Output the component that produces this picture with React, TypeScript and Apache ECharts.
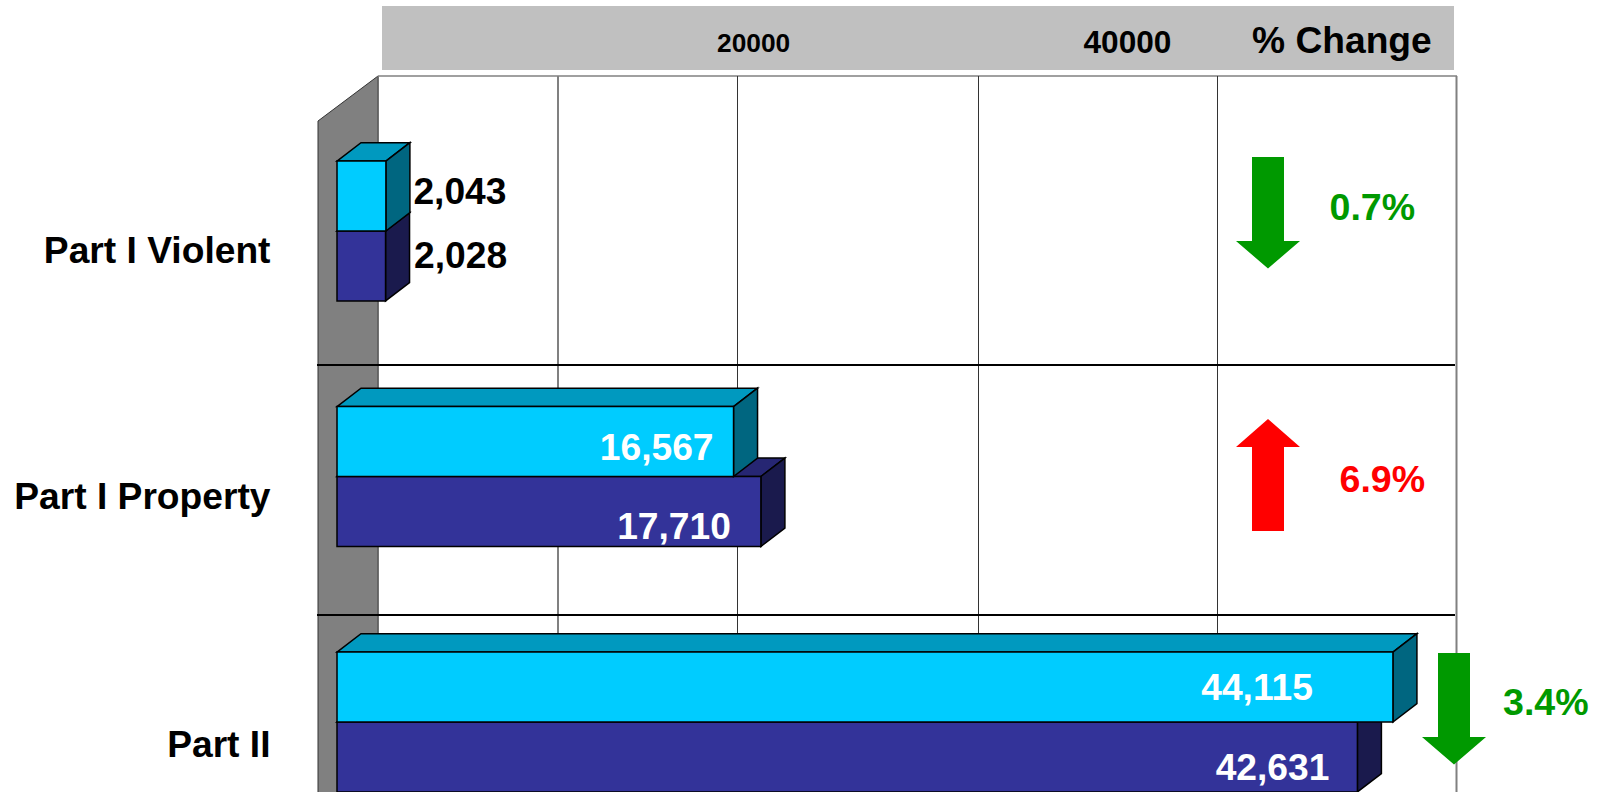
import React, { useEffect, useRef } from "react";
import * as echarts from "echarts";

const categories = ["Part I Violent", "Part I Property", "Part II"];
const earlierValues = [2043, 16567, 44115];
const laterValues = [2028, 17710, 42631];
const gridValues = [9232, 16708, 26775, 36759];
const tickLabels = ["20000", "40000"];
const headerTitle = "% Change";
const changeLabels = ["0.7%", "6.9%", "3.4%"];

const FONT = '"Liberation Sans", Arial, sans-serif';
const DX = 24;
const DY = -18.4;

// layout of the hand-placed value labels: dx from the bar end, dy from the bar's centre
const earlierLabelLayout = [
  { dx: 27.5, dy: -5, align: "left" },
  { dx: -20, dy: 5, align: "right" },
  { dx: -80, dy: -0.5, align: "right" },
];
const laterLabelLayout = [
  { dx: 28.5, dy: -11, align: "left" },
  { dx: -30, dy: 15, align: "right" },
  { dx: -28, dy: 10, align: "right" },
];
// how far below its band centre each category label sits
const categoryLabelOffsets = [18.7, 19.2, 22];

function bar3d(values: number[], layout: any[], colors: string[], side: 1 | -1, labelFill: (i: number) => string) {
  return (params: any, api: any) => {
    const value = api.value(0);
    const idx = api.value(1);
    const [x1, yc] = api.coord([value, idx]);
    const [x0] = api.coord([0, idx]);
    const h = api.size([0, 1])[1] * 0.285;
    const top = side === -1 ? yc - h : yc;
    const bottom = top + h;
    const edge = { stroke: "#000", lineWidth: 1.5, lineJoin: "miter" };
    const l = layout[idx];
    return {
      type: "group",
      children: [
        {
          type: "polygon",
          shape: { points: [[x0, top], [x0 + DX, top + DY], [x1 + DX, top + DY], [x1, top]] },
          style: { fill: colors[1], ...edge },
        },
        {
          type: "polygon",
          shape: { points: [[x1, top], [x1 + DX, top + DY], [x1 + DX, bottom + DY], [x1, bottom]] },
          style: { fill: colors[2], ...edge },
        },
        { type: "rect", shape: { x: x0, y: top, width: x1 - x0, height: h }, style: { fill: colors[0], ...edge } },
        {
          type: "text",
          x: x1 + l.dx,
          y: (top + bottom) / 2 + l.dy,
          style: {
            text: values[idx].toLocaleString("en-US"),
            fill: labelFill(idx),
            font: `bold 37.2px ${FONT}`,
            textAlign: l.align,
            textVerticalAlign: "middle",
          },
        },
      ],
    };
  };
}

function arrow(cx: number, y0: number, yBase: number, yTip: number, fill: string) {
  return {
    type: "polygon",
    shape: {
      points: [
        [cx - 16, y0],
        [cx + 16, y0],
        [cx + 16, yBase],
        [cx + 32, yBase],
        [cx, yTip],
        [cx - 32, yBase],
        [cx - 16, yBase],
      ],
    },
    style: { fill },
  };
}

function label(text: string, x: number, y: number, size: number, fill: string) {
  return {
    type: "text",
    x,
    y,
    style: { text, fill, font: `bold ${size}px ${FONT}`, textAlign: "left", textVerticalAlign: "middle" },
  };
}

export default function App() {
  const ref = useRef<HTMLDivElement>(null);
  useEffect(() => {
    document.body.style.margin = "0";
    const chart = echarts.init(ref.current!, undefined, { renderer: "svg" });
    const labelColor = (values: number[]) => (i: number) => (values[i] < 5000 ? "#000" : "#fff");
    chart.setOption({
      animation: false,
      backgroundColor: "#fff",
      tooltip: { show: false },
      grid: { left: 337, top: 108.25, width: 1119, height: 736.5, containLabel: false },
      xAxis: { type: "value", min: 0, max: 46750, show: false, splitLine: { show: false } },
      yAxis: {
        type: "category",
        inverse: true,
        data: categories,
        axisLine: { show: false },
        axisTick: { show: false },
        splitLine: { show: false },
        axisLabel: { show: false },
      },
      graphic: {
        elements: [
          {
            type: "polygon",
            z: 0,
            shape: { points: [[318, 121], [378, 76], [378, 860], [318, 860]] },
            style: { fill: "#808080", stroke: "#333", lineWidth: 1 },
          },
          { type: "line", z: 0, shape: { x1: 378, y1: 76, x2: 378, y2: 860 }, style: { stroke: "#666", lineWidth: 1.5 } },
          { type: "line", z: 0, shape: { x1: 378, y1: 76, x2: 1457, y2: 76 }, style: { stroke: "#808080", lineWidth: 1.5 } },
          { type: "line", z: 0, shape: { x1: 1456.5, y1: 76, x2: 1456.5, y2: 860 }, style: { stroke: "#808080", lineWidth: 2 } },
          { type: "rect", z: 0, shape: { x: 382, y: 6, width: 1072, height: 64 }, style: { fill: "#C0C0C0" } },
          { ...label(tickLabels[0], 717, 43, 26.3, "#000"), z: 1 },
          { ...label(tickLabels[1], 1083.5, 41.5, 31.6, "#000"), z: 1 },
          { ...label(headerTitle, 1252, 39.5, 37.2, "#000"), z: 1 },
          { type: "line", z: 3, shape: { x1: 317, y1: 365, x2: 1455, y2: 365 }, style: { stroke: "#000", lineWidth: 2 } },
          { type: "line", z: 3, shape: { x1: 317, y1: 615, x2: 1455, y2: 615 }, style: { stroke: "#000", lineWidth: 2 } },
          { ...arrow(1268, 157, 241, 268.5, "#009900"), z: 3 },
          { ...arrow(1268, 531, 447, 419, "#FF0000"), z: 3 },
          { ...arrow(1454, 653, 737, 764.5, "#009900"), z: 3 },
          { ...label(changeLabels[0], 1329.5, 206.5, 37.6, "#009900"), z: 3 },
          { ...label(changeLabels[1], 1339.5, 478.5, 37.6, "#FF0000"), z: 3 },
          { ...label(changeLabels[2], 1503, 701.5, 37.6, "#009900"), z: 3 },
        ],
      },
      series: [
        {
          type: "custom",
          name: "Category labels",
          z: 2,
          silent: true,
          clip: false,
          data: categories.map((_, i) => [0, i]),
          encode: { x: 0, y: 1 },
          renderItem: (params: any, api: any) => {
            const idx = api.value(1);
            const [x, y] = api.coord([0, idx]);
            return {
              type: "text",
              x: x - 66.5,
              y: y + categoryLabelOffsets[idx],
              style: {
                text: categories[idx],
                fill: "#000",
                font: `bold 37.2px ${FONT}`,
                textAlign: "right",
                textVerticalAlign: "middle",
              },
            };
          },
        },
        {
          type: "custom",
          name: "Grid",
          z: 1,
          silent: true,
          clip: false,
          data: gridValues.map((v) => [v]),
          encode: { x: 0 },
          renderItem: (params: any, api: any) => {
            const first = params.dataIndex === 0;
            const [x] = api.coord([api.value(0), 0]);
            const px = first ? Math.round(x) : Math.round(x) + 0.5;
            return {
              type: "line",
              shape: { x1: px, y1: 76, x2: px, y2: 860 },
              style: { stroke: first ? "#808080" : "#333", lineWidth: first ? 2 : 1 },
            };
          },
        },
        {
          type: "custom",
          name: "Later",
          z: 5,
          silent: true,
          clip: false,
          data: laterValues.map((v, i) => [v, i]),
          encode: { x: 0, y: 1 },
          renderItem: bar3d(laterValues, laterLabelLayout, ["#333399", "#262673", "#1A1A4D"], 1, labelColor(laterValues)),
        },
        {
          type: "custom",
          name: "Earlier",
          z: 6,
          silent: true,
          clip: false,
          data: earlierValues.map((v, i) => [v, i]),
          encode: { x: 0, y: 1 },
          renderItem: bar3d(earlierValues, earlierLabelLayout, ["#00CCFF", "#0099BF", "#006680"], -1, labelColor(earlierValues)),
        },
      ],
    });
    return () => chart.dispose();
  }, []);
  return (
    <div style={{ width: 1598, height: 792, overflow: "hidden", background: "#fff" }}>
      <div ref={ref} style={{ width: 1598, height: 900 }} />
    </div>
  );
}
